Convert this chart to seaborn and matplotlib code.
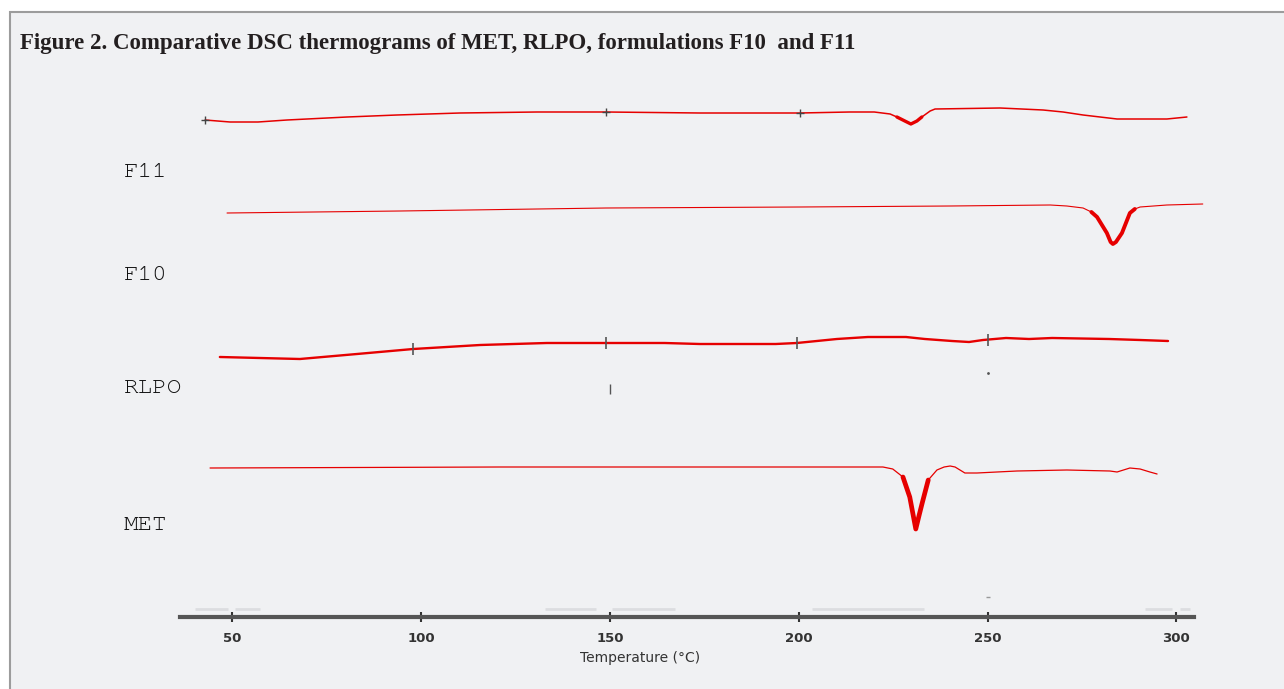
import numpy as np
import pandas as pd
import matplotlib.pyplot as plt
import seaborn as sns
from matplotlib.patches import Rectangle

# DSC thermograms, temperature in degC, heat flow in arbitrary (offset) units
f11_temp = [42.8, 49.4, 56.8, 64.5, 80.4, 93.6, 110.3, 130.7, 148.9, 173.8, 200.3, 213.5,
            220.0, 224.2, 226.0, 228.1, 229.7, 231.3, 232.6, 234.8, 236.1, 253.3, 264.7,
            270.0, 275.3, 284.3, 297.5, 302.8]
f11_flow = [49.7, 49.5, 49.5, 49.7, 50.0, 50.2, 50.4, 50.5, 50.5, 50.4, 50.4, 50.5,
            50.5, 50.3, 50.0, 49.6, 49.3, 49.6, 50.0, 50.6, 50.8, 50.9, 50.7,
            50.5, 50.2, 49.8, 49.8, 50.0]

f10_temp = [48.6, 94.4, 149.0, 200.3, 240.1, 266.6, 271.0, 275.3, 277.5, 279.0, 281.6,
            282.6, 283.2, 284.0, 285.6, 287.7, 289.0, 290.4, 297.5, 307.0]
f10_flow = [40.4, 40.6, 40.9, 41.0, 41.1, 41.2, 41.1, 40.9, 40.5, 40.0, 38.4,
            37.5, 37.3, 37.5, 38.4, 40.4, 40.8, 41.0, 41.2, 41.3]

rlpo_temp = [46.7, 67.9, 83.0, 97.9, 115.6, 133.3, 148.9, 164.5, 173.8, 193.9, 199.5,
             210.1, 218.3, 228.4, 233.4, 240.6, 245.1, 248.8, 254.9, 261.0, 267.1,
             282.2, 290.4, 297.8]
rlpo_flow = [26.0, 25.8, 26.3, 26.8, 27.2, 27.4, 27.4, 27.4, 27.3, 27.3, 27.4,
             27.8, 28.0, 28.0, 27.8, 27.6, 27.5, 27.7, 27.9, 27.8, 27.9,
             27.8, 27.7, 27.6]

met_temp = [44.1, 120.9, 213.5, 222.3, 224.9, 227.6, 229.4, 230.3, 231.0, 231.9, 232.7,
            234.3, 236.6, 238.5, 240.1, 241.4, 244.0, 247.2, 257.8, 271.0, 282.4, 284.3,
            287.7, 290.4, 293.0, 294.9]
met_flow = [14.9, 15.0, 15.0, 15.0, 14.8, 14.0, 12.0, 10.2, 8.8, 10.2, 11.4,
            13.7, 14.7, 15.0, 15.1, 15.0, 14.4, 14.4, 14.6, 14.7, 14.6, 14.5,
            14.9, 14.8, 14.5, 14.3]

samples = ["F11", "F10", "RLPO", "MET"]
temp_ticks = [50, 100, 150, 200, 250, 300]

# instrument cursor marks seen on the traces
f11_marks = [42.8, 148.9, 200.3]
rlpo_marks = [97.9, 148.9, 199.5, 250.0]

# faint scan remnants just above the temperature axis
ghost_spans = [(40.2, 48.9), (50.7, 57.3), (132.8, 146.3), (150.6, 167.3),
               (203.6, 233.3), (291.7, 298.9), (301.0, 303.6)]

RED = "#e60000"
W, H = 1284, 689

sns.set_theme(style="white")

fig = plt.figure(figsize=(W / 100, H / 100), dpi=100)
fig.patch.set_facecolor("white")
fig.patches.append(Rectangle((10.5 / W, -0.01), 1.1, 1.01 - 12 / H,
                             transform=fig.transFigure, facecolor="#f0f1f3",
                             edgecolor="#9c9c9c", lw=1.5, zorder=-5))

ax = fig.add_axes([156.8 / W, 72 / H, 1057.3 / W, 527 / H])
ax.set_facecolor("none")
ax.set_zorder(2)

for a, b in ghost_spans:
    ax.plot([a, b], [0.8, 0.8], color="#dcdde0", lw=2, solid_capstyle="butt")
ax.plot([250], [2.0], ls="none", marker="_", ms=3, mew=1, color="#999")

curves = {
    "F11": (f11_temp, f11_flow, 1.1, (226, 234), 2.4),
    "F10": (f10_temp, f10_flow, 0.8, (277, 290), 2.8),
    "RLPO": (rlpo_temp, rlpo_flow, 1.7, None, None),
    "MET": (met_temp, met_flow, 0.9, (225, 236), 3.4),
}

for name in samples:
    t, q, lw, dip, dip_lw = curves[name]
    df = pd.DataFrame({"Temperature": t, "Heat flow": q})
    sns.lineplot(data=df, x="Temperature", y="Heat flow", ax=ax, color=RED,
                 lw=lw, estimator=None, sort=False, clip_on=False)
    if dip is not None:
        sub = df[(df["Temperature"] >= dip[0]) & (df["Temperature"] <= dip[1])]
        sns.lineplot(data=sub, x="Temperature", y="Heat flow", ax=ax, color=RED,
                     lw=dip_lw, estimator=None, sort=False, clip_on=False)

ax.plot(f11_marks, np.interp(f11_marks, f11_temp, f11_flow), ls="none",
        marker="+", ms=6, mew=1.0, color="#444")
ax.plot(rlpo_marks, np.interp(rlpo_marks, rlpo_temp, rlpo_flow), ls="none",
        marker="|", ms=8, mew=1.2, color="#555")
ax.plot([150], [22.8], ls="none", marker="|", ms=7, mew=1.0, color="#555")
ax.plot([250], [24.4], ls="none", marker=".", ms=2, color="#555")

ax.set_xlim(30, 310)
ax.set_ylim(0, 52.7)
ax.set_yticks([])
ax.set_xticks(temp_ticks)
ax.set_xticklabels([str(v) for v in temp_ticks], fontweight="bold")
ax.tick_params(axis="x", direction="inout", length=7, width=1.5, color="#333",
               pad=7, labelsize=9.5, labelcolor="#333", bottom=True)
for side in ["left", "right", "top"]:
    ax.spines[side].set_visible(False)
ax.spines["bottom"].set_color("#555555")
ax.spines["bottom"].set_linewidth(3)
ax.spines["bottom"].set_bounds(36.2, 304.8)
ax.set_xlabel("")
ax.set_ylabel("")

fig.text(640 / W, 1 - 658 / H, "Temperature (\u00b0C)", ha="center", va="center",
         fontsize=10, color="#333")

mono = ["Courier New", "Nimbus Mono PS", "FreeMono", "Liberation Mono"]
label_y = {"F11": 172, "F10": 275, "RLPO": 388, "MET": 525}
for name in samples:
    fig.text(124 / W, 1 - label_y[name] / H, name, ha="left", va="center",
             family=mono, fontsize=17.5, color="#111")

fig.text(20 / W, 1 - 44 / H,
         "Figure 2. Comparative DSC thermograms of MET, RLPO, formulations F10  and F11",
         ha="left", va="center", family="Liberation Serif", fontweight="bold",
         fontsize=16.5, color="#231f20")

fig.savefig("out.png", dpi=100, facecolor=fig.get_facecolor())
